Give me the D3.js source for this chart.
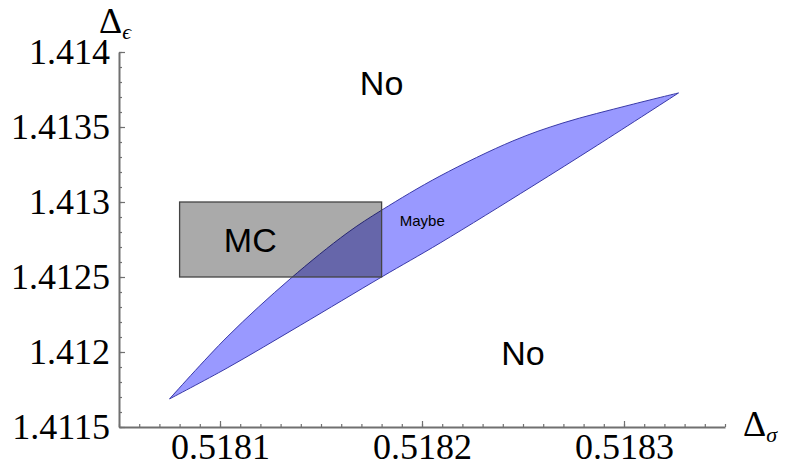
<!DOCTYPE html>
<html>
<head>
<meta charset="utf-8">
<script src="https://cdn.jsdelivr.net/npm/d3@7"></script>
<style>
  body { margin: 0; background: #fff; }
  .axis path, .axis line { stroke: #707070; }
  .region-label { font-family: "Liberation Sans", sans-serif; fill: #000; }
</style>
</head>
<body>
<div id="chart"></div>
<script>
// upper (curved) edge of the allowed region, from bottom-left tip to top-right tip
const upperSigma = [0.518075, 0.5181035, 0.5181347, 0.5181629, 0.5181802,
                    0.5182089, 0.518245, 0.5182698, 0.518303, 0.518327];
const upperEps = [1.411687, 1.4121, 1.412487, 1.412793, 1.412947,
                  1.413173, 1.413407, 1.413527, 1.413647, 1.413727];
// lower (nearly straight) edge
const lowerSigma = [0.518075, 0.5181035, 0.51814, 0.51818, 0.518209, 0.518254, 0.518287, 0.518327];
const lowerEps = [1.411687, 1.411893, 1.41218, 1.4125, 1.412727, 1.4131, 1.41338, 1.413727];

// Monte Carlo box
const mcSigma = [0.51808, 0.51818];
const mcEps = [1.4125, 1.413];

const xTicks = [0.5181, 0.5182, 0.5183];
const xTickLabels = ["0.5181", "0.5182", "0.5183"];
const yTicks = [1.4115, 1.412, 1.4125, 1.413, 1.4135, 1.414];
const yTickLabels = ["1.4115", "1.412", "1.4125", "1.413", "1.4135", "1.414"];

const labelText = ["No", "No", "MC", "Maybe"];
const labelSigma = [0.51818, 0.51825, 0.518115, 0.518189];
const labelEps = [1.413713, 1.411913, 1.412667, 1.41284];

let margin = {top: 52, left: 119, right: 64, bottom: 39},
    width = 789 - margin.left - margin.right,
    height = 466 - margin.top - margin.bottom;

let svg = d3.select("#chart").append("svg")
    .attr("width", 789)
    .attr("height", 466);

let g = svg.append("g")
    .attr("transform", "translate(" + margin.left + "," + margin.top + ")");

let x = d3.scaleLinear().domain([0.51805, 0.51835]).range([0, width]);
let y = d3.scaleLinear().domain([1.4115, 1.414]).range([height, 0]);

// region shape: upper edge then lower edge back
let line = d3.line().x(d => x(d[0])).y(d => y(d[1])).curve(d3.curveCatmullRom);
let upperPts = upperSigma.map((s, i) => [s, upperEps[i]]);
let lowerPts = lowerSigma.map((s, i) => [s, lowerEps[i]]).reverse();
let regionPath = line(upperPts) + line(lowerPts).replace(/^M/, "L") + "Z";

g.append("path")
    .attr("d", regionPath)
    .attr("fill", "#9999ff")
    .attr("stroke", "#3a3aa8")
    .attr("stroke-width", 1);

g.append("rect")
    .attr("x", x(mcSigma[0]))
    .attr("y", y(mcEps[1]))
    .attr("width", x(mcSigma[1]) - x(mcSigma[0]))
    .attr("height", y(mcEps[0]) - y(mcEps[1]))
    .attr("fill", "#000")
    .attr("fill-opacity", 0.335)
    .attr("stroke", "#444")
    .attr("stroke-width", 1.3);

// axes: minor ticks, then labelled major ticks
let xMinor = d3.range(0, 31).map(i => 0.51805 + i * 0.00001);
let yMinor = d3.range(0, 26).map(i => 1.4115 + i * 0.0001);

let xAxisMinor = g.append("g").attr("class", "axis")
    .attr("transform", "translate(0," + height + ")")
    .call(d3.axisBottom(x).tickValues(xMinor).tickSize(-3).tickSizeOuter(0).tickFormat(""));
xAxisMinor.select(".domain").attr("stroke-width", 2);

g.append("g").attr("class", "axis")
    .attr("transform", "translate(0," + height + ")")
    .call(d3.axisBottom(x).tickValues(xTicks).tickSize(-6).tickSizeOuter(0).tickPadding(6)
      .tickFormat((d, i) => xTickLabels[i]))
    .call(a => a.select(".domain").remove());

let yAxisMinor = g.append("g").attr("class", "axis")
    .call(d3.axisLeft(y).tickValues(yMinor).tickSize(-3).tickSizeOuter(0).tickFormat(""));
yAxisMinor.select(".domain").attr("stroke-width", 2);

g.append("g").attr("class", "axis")
    .call(d3.axisLeft(y).tickValues(yTicks).tickSize(-6).tickSizeOuter(0).tickPadding(9)
      .tickFormat((d, i) => yTickLabels[i]))
    .call(a => a.select(".domain").remove());

g.selectAll(".tick line").attr("stroke-width", 1.2);
g.selectAll(".tick text")
    .attr("font-family", "Liberation Serif, serif")
    .attr("font-size", 36)
    .attr("fill", "#000");

// axis titles
let xTitle = g.append("text")
    .attr("x", width + 18)
    .attr("y", height + 9)
    .attr("font-family", "Liberation Serif, serif");
xTitle.append("tspan").attr("font-size", 36).text("\u0394");
xTitle.append("tspan").attr("font-size", 22).attr("font-style", "italic").attr("dy", 6).text("\u03c3");

let yTitle = g.append("text")
    .attr("x", -20)
    .attr("y", -19)
    .attr("font-family", "Liberation Serif, serif");
yTitle.append("tspan").attr("font-size", 36).text("\u0394");
yTitle.append("tspan").attr("font-size", 22).attr("font-style", "italic").attr("dy", 6).text("\u03f5");

// region labels
g.selectAll(".region-label")
    .data(labelText)
    .enter().append("text")
    .attr("class", "region-label")
    .attr("x", (d, i) => x(labelSigma[i]))
    .attr("y", (d, i) => y(labelEps[i]))
    .attr("text-anchor", d => d == "Maybe" ? "start" : "middle")
    .attr("font-size", d => d == "Maybe" ? 15 : 34)
    .text(d => d);
</script>
</body>
</html>
